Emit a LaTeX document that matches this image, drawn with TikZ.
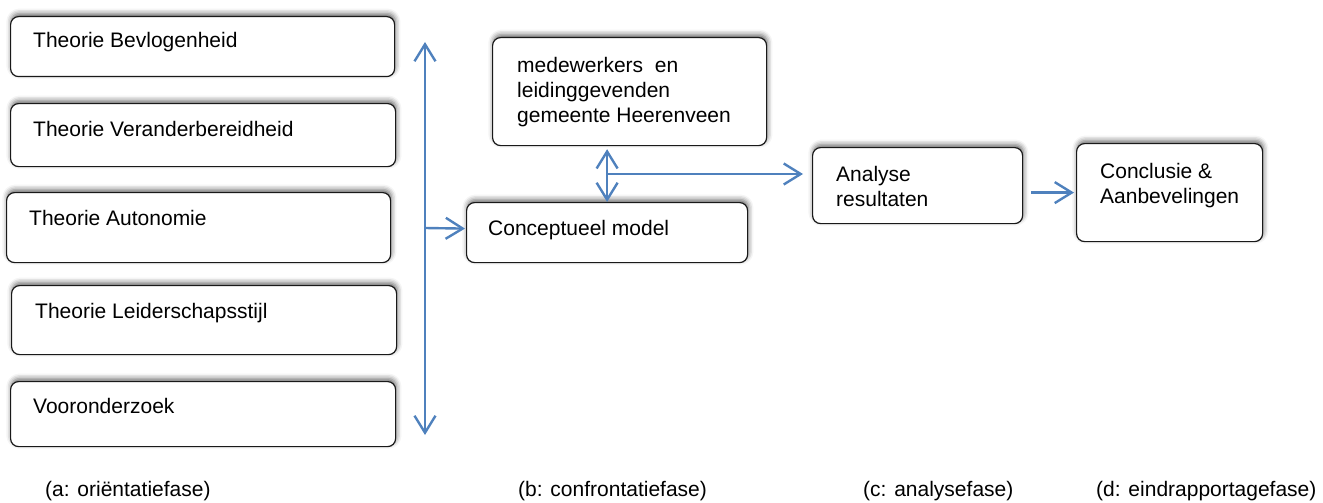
\documentclass[tikz,border=0pt]{standalone}
\usepackage{fontspec}
\setmainfont{Liberation Sans}
\usetikzlibrary{arrows.meta,shadows.blur,calc}
\definecolor{arrowblue}{HTML}{4F81BD}
\tikzset{
  box/.style={draw=black!90, line width=1.2pt, rounded corners=8pt, fill=white,
    inner sep=0pt, anchor=north west,
    blur shadow={shadow xshift=0.8pt, shadow yshift=3pt, shadow blur radius=5pt, shadow opacity=60}},
  txt/.style={inner sep=0pt, align=left, font=\fontsize{21}{25}\selectfont},
  tipb/.tip={Straight Barb[length=17pt,width=21pt]},
  conn/.style={draw=arrowblue, line width=2.4pt, -tipb},
  dconn/.style={draw=arrowblue, line width=2.4pt, tipb-tipb}
}
\begin{document}
\begin{tikzpicture}[x=1pt,y=-1pt]
\useasboundingbox (0,0) rectangle (1323,503);
% left column boxes
\node[box, minimum width=384pt, minimum height=60pt] (b1) at (10,16) {};
\node[box, minimum width=385pt, minimum height=63pt] (b2) at (10,103) {};
\node[box, minimum width=384pt, minimum height=70pt] (b3) at (6,192) {};
\node[box, minimum width=385pt, minimum height=69pt] (b4) at (11,285) {};
\node[box, minimum width=385pt, minimum height=65pt] (b5) at (10,381) {};
\node[txt, anchor=base west] (t1) at (33,48) {Theorie Bevlogenheid};
\node[txt, anchor=base west] (t2) at (33,136) {Theorie Veranderbereidheid};
\node[txt, anchor=base west] (t3) at (29,225) {Theorie Autonomie};
\node[txt, anchor=base west] (t4) at (35,318) {Theorie Leiderschapsstijl};
\node[txt, anchor=base west] (t5) at (33,413) {Vooronderzoek};
% middle
\node[box, minimum width=274pt, minimum height=108pt] (med) at (492,37) {};
\node[txt, anchor=north west] (tmed) at (517,57) {medewerkers\ \ en\\leidinggevenden\\gemeente Heerenveen};
\node[box, minimum width=281pt, minimum height=60pt] (cm) at (466,202) {};
\node[txt, anchor=base west] (tcm) at (488,235) {Conceptueel model};
% right
\node[box, minimum width=210pt, minimum height=76pt] (ana) at (812,147) {};
\node[txt, anchor=north west] (tana) at (836,166) {Analyse\\resultaten};
\node[box, minimum width=186pt, minimum height=98pt] (conc) at (1076,143) {};
\node[txt, anchor=north west] (tconc) at (1100,163) {Conclusie \&\\Aanbevelingen};
% bottom labels
\node[txt, anchor=base west] (la) at (45,496) {(a: oriëntatiefase)};
\node[txt, anchor=base west] (lb) at (518,496) {(b: confrontatiefase)};
\node[txt, anchor=base west] (lc) at (863,496) {(c: analysefase)};
\node[txt, anchor=base west] (ld) at (1096,496) {(d: eindrapportagefase)};
% connectors
\coordinate (vt) at (425,42);
\coordinate (vb) at (425,435);
\draw[dconn] (vt) -- (vb);
\draw[conn, shorten >=1pt] (vt |- 0,228) -- ([yshift=4pt]cm.west);
\draw[dconn, shorten <=3pt] (cm.north |- med.south) -- (cm.north);
\coordinate (j) at (cm.north |- 0,174);
\draw[conn, shorten >=9pt] (j) -- (j -| ana.west);
\draw[conn, shorten <=8pt, shorten >=2pt] (conc.west -| ana.east) -- (conc.west);
\end{tikzpicture}
\end{document}
